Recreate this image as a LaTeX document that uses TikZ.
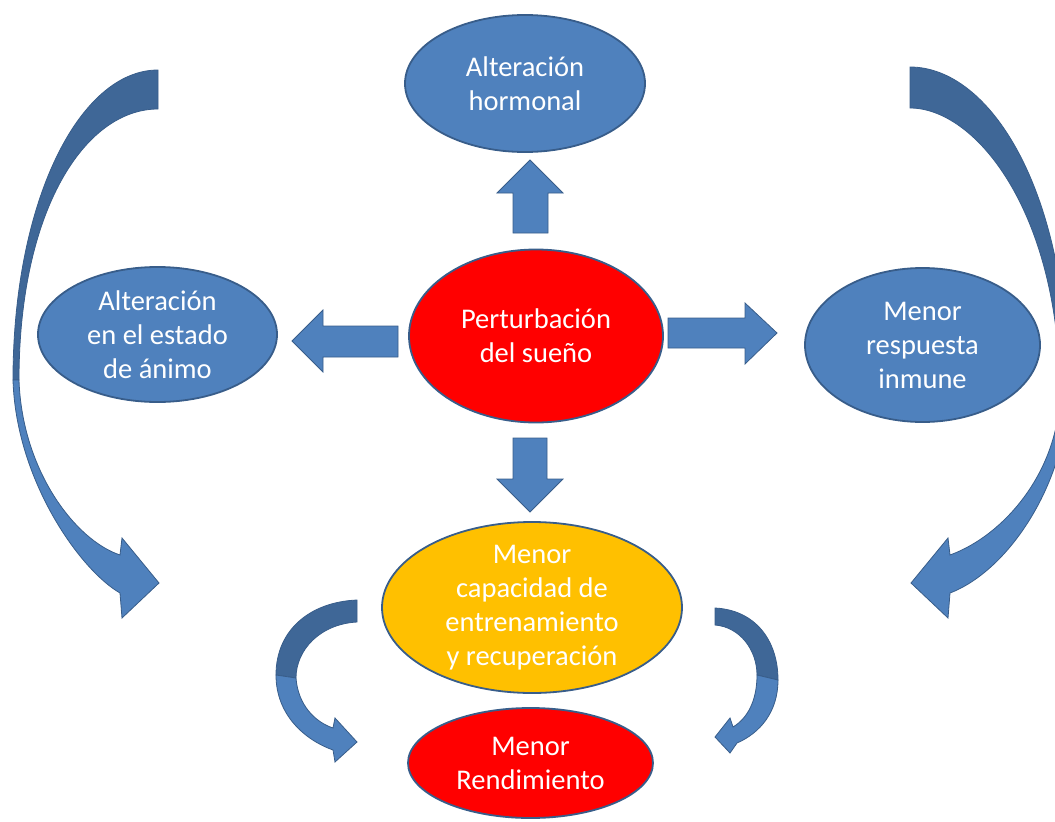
\documentclass[tikz,border=0pt]{standalone}
\usepackage{fontspec}
\setmainfont{Carlito}
\usetikzlibrary{shapes.geometric}
\definecolor{boxblue}{HTML}{4F81BD}
\definecolor{edgeblue}{HTML}{385D8A}
\definecolor{backblue}{HTML}{3F6797}
\definecolor{hotred}{HTML}{FF0000}
\definecolor{amber}{HTML}{FFC000}
\begin{document}
\begin{tikzpicture}[x=1pt,y=-1pt,
  bubble/.style={ellipse, draw=edgeblue, line width=1.8pt, inner sep=0pt},
  txt/.style={text=white, align=center, inner sep=0pt,
    font=\fontsize{28.5}{34}\selectfont},
  blockarrow/.style={fill=boxblue, draw=edgeblue, line width=0.8pt},
  bandback/.style={fill=backblue, draw=edgeblue, line width=0.8pt},
  bandfront/.style={fill=boxblue, draw=edgeblue, line width=0.8pt}]
\useasboundingbox (0,0) rectangle (1055,822);

% ---- large curved arrow, left side ----
\coordinate (lTo) at (158,70);
\coordinate (lTi) at (158,109);
\coordinate (lMo) at (13,380);
\coordinate (lMi) at (19,380);
\coordinate (lHi) at (120,555);
\coordinate (lHo) at (120,593);
\coordinate (lTip) at (159,583);
\path[bandback] (lTo) .. controls (80,70) and (13,200) .. (lMo)
  -- (lMi) .. controls (19,210) and (85,109) .. (lTi) -- cycle;
\path[bandfront] (lMo) .. controls (16,480) and (80,570) .. (lHo)
  -- (122,618) -- (lTip) -- (122,538) -- (lHi)
  .. controls (75,540) and (22,470) .. (lMi) -- cycle;

% ---- large curved arrow, right side ----
\coordinate (rTo) at (910,67);
\coordinate (rTi) at (910,108);
\coordinate (rMo) at (1068,390);
\coordinate (rMi) at (1060,390);
\coordinate (rHi) at (950,555);
\coordinate (rHo) at (950,593);
\coordinate (rTip) at (911,583);
\path[bandback] (rTo) .. controls (990,67) and (1068,190) .. (rMo)
  -- (rMi) .. controls (1058,210) and (975,108) .. (rTi) -- cycle;
\path[bandfront] (rMo) .. controls (1068,480) and (1010,570) .. (rHo)
  -- (948,618) -- (rTip) -- (948,538) -- (rHi)
  .. controls (1005,535) and (1060,470) .. (rMi) -- cycle;

% ---- small curved arrow, lower left ----
\path[bandback] (357,600) .. controls (310,602) and (276,630) .. (276,675)
  -- (296,678) .. controls (296,650) and (320,624) .. (357,622) -- cycle;
\path[bandfront] (276,675) .. controls (276,715) and (305,740) .. (333,750)
  -- (335,762) -- (357,742) -- (335,718) -- (333,728)
  .. controls (315,722) and (298,705) .. (296,678) -- cycle;

% ---- small curved arrow, lower right ----
\path[bandback] (715,608) .. controls (755,610) and (778,640) .. (778,680)
  -- (757,675) .. controls (757,650) and (740,627) .. (715,625) -- cycle;
\path[bandfront] (778,680) .. controls (778,712) and (760,733) .. (737,743)
  -- (730,753) -- (715,737) -- (730,718) -- (733,727)
  .. controls (748,718) and (757,700) .. (757,675) -- cycle;

% ---- straight block arrows around the centre ----
\path[blockarrow] (513,233) -- (548,233) -- (548,193) -- (563,193)
  -- (530,160) -- (497,193) -- (513,193) -- cycle;
\path[blockarrow] (513,438) -- (547,438) -- (547,479) -- (563,479)
  -- (530,512) -- (497,479) -- (513,479) -- cycle;
\path[blockarrow] (398,326) -- (398,357) -- (323,357) -- (323,372)
  -- (292,341) -- (323,310) -- (323,326) -- cycle;
\path[blockarrow] (668,318) -- (668,348) -- (745,348) -- (745,364)
  -- (777,333) -- (745,303) -- (745,318) -- cycle;

% ---- ellipses ----
\node[bubble, fill=boxblue, minimum width=240pt, minimum height=137pt,
  label={[txt]center:Alteración\\hormonal}] (horm) at (525,83.5) {};
\node[bubble, fill=hotred, minimum width=254pt, minimum height=173pt,
  label={[txt]center:Perturbación\\del sueño}] (sleep) at (536,336) {};
\node[bubble, fill=boxblue, minimum width=239pt, minimum height=135pt,
  label={[txt]center:Alteración\\en el estado\\de ánimo}] (mood) at (157.5,334.5) {};
\node[bubble, fill=boxblue, minimum width=235pt, minimum height=154pt,
  label={[txt]center:Menor\\respuesta\\inmune}] (immune) at (922.5,345) {};
\node[bubble, fill=amber, minimum width=300pt, minimum height=171pt,
  label={[txt]center:Menor\\capacidad de\\entrenamiento\\y recuperación}] (train) at (532,607.5) {};
\node[bubble, fill=hotred, minimum width=245pt, minimum height=110pt,
  label={[txt]center:Menor\\Rendimiento}] (perf) at (530.5,763) {};
\end{tikzpicture}
\end{document}
